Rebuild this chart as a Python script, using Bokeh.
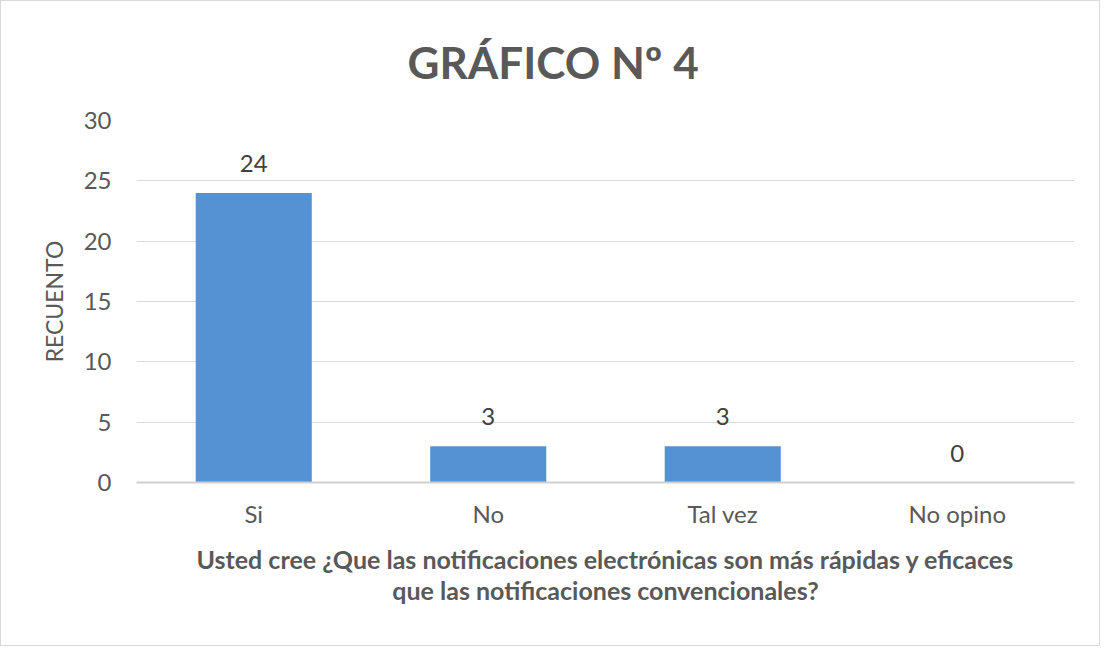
from bokeh.plotting import figure
from bokeh.models import ColumnDataSource, FixedTicker, Range1d, FactorRange, Title
from bokeh.embed import file_html
from bokeh.resources import INLINE
from bokeh.core.properties import value

categories = ["Si", "No", "Tal vez", "No opino"]
counts = [24, 3, 3, 0]
y_ticks = [0, 5, 10, 15, 20, 25, 30]
title_text = "GRÁFICO Nº 4"
y_label = "RECUENTO"
x_label_line1 = "Usted cree ¿Que las notificaciones electrónicas son más rápidas y eficaces"
x_label_line2 = "que las notificaciones convencionales?"

FONT = "Lato"
GRAY = "#595959"

src = ColumnDataSource(dict(cat=categories, val=counts, lab=[str(v) for v in counts]))

p = figure(x_range=FactorRange(*categories, range_padding=0), y_range=Range1d(0, 30),
           width=1100, height=646, output_backend="svg", toolbar_location=None,
           min_border_left=135, min_border_right=27, min_border_top=119, min_border_bottom=165)

p.title.text = title_text
p.title.align = "left"
p.title.vertical_align = "top"
p.title.text_font = FONT
p.title.text_font_size = "44px"
p.title.text_font_style = "bold"
p.title.text_color = GRAY
p.title.standoff = 62
p.title.offset = 271

p.vbar(x="cat", top="val", width=0.495, source=src, fill_color="#5592d3", line_color=None)

p.text(x="cat", y="val", text="lab", source=src, text_align="center", text_baseline="bottom",
       y_offset=-21, text_font=value(FONT), text_font_size="24px", text_color="#404040")

p.yaxis.ticker = FixedTicker(ticks=y_ticks)
p.yaxis.axis_line_color = None
p.yaxis.major_tick_line_color = None
p.yaxis.minor_tick_line_color = None
p.yaxis.major_label_text_font = FONT
p.yaxis.major_label_text_font_size = "24px"
p.yaxis.major_label_text_color = GRAY
p.yaxis.major_label_standoff = 19
p.yaxis.axis_label = y_label
p.yaxis.axis_label_text_font = FONT
p.yaxis.axis_label_text_font_size = "23px"
p.yaxis.axis_label_text_font_style = "normal"
p.yaxis.axis_label_text_color = GRAY
p.yaxis.axis_label_standoff = 13

p.xaxis.axis_line_color = "#d0d0d0"
p.xaxis.axis_line_width = 2
p.xaxis.major_tick_line_color = None
p.xaxis.minor_tick_line_color = None
p.xaxis.major_label_text_font = FONT
p.xaxis.major_label_text_font_size = "24px"
p.xaxis.major_label_text_color = GRAY
p.xaxis.major_label_standoff = 10
p.xaxis.axis_label = x_label_line1
p.xaxis.axis_label_text_font = FONT
p.xaxis.axis_label_text_font_size = "25px"
p.xaxis.axis_label_text_font_style = "bold"
p.xaxis.axis_label_text_color = GRAY
p.xaxis.axis_label_standoff = 13

line2 = Title(text=x_label_line2, align="center", vertical_align="top", text_font=FONT,
              text_font_size="25px", text_font_style="bold", text_color=GRAY, standoff=-4)
p.add_layout(line2, "below")

p.xgrid.grid_line_color = None
p.ygrid.grid_line_color = "#d9d9d9"
p.outline_line_color = None
p.styles = {"border": "1px solid #d9d9d9"}

open("out.html", "w").write(file_html(p, INLINE))
